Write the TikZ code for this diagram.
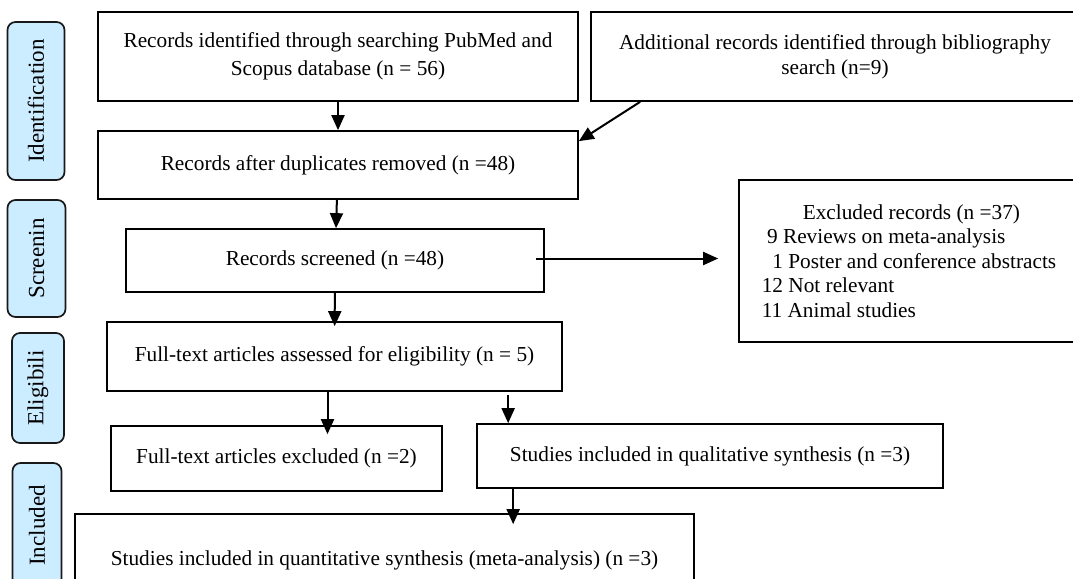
\documentclass[tikz,border=0pt]{standalone}
\usepackage{fontspec}
\setmainfont{Liberation Serif}
\usetikzlibrary{arrows.meta}
\definecolor{phasefill}{HTML}{CCECFF}

\begin{document}
\begin{tikzpicture}[x = 1pt, y = -1pt, line width = 1.7pt,
                    box/.style   = {rectangle, draw, fill = white, inner sep = 0pt, align = center, font = \fontsize{21.3}{25}\selectfont},
                    phase/.style = {rectangle, rounded corners = 8pt, draw = black!90, fill = phasefill, inner sep = 0pt, rotate = 90, font = \fontsize{23}{27}\selectfont},
                    flow/.style  = {->, line width = 2pt},
                    >= {Triangle[width = 13pt, length = 15pt]}
                    ]
    \useasboundingbox (0, 0) rectangle (1073, 578);
    \clip (0, 0) rectangle (1073, 578);

    % phases
    \node[phase, minimum width = 158pt, minimum height = 57pt] (lid)   at (36, 101)     {Identification};
    \node[phase, minimum width = 117pt, minimum height = 58pt] (lscr)  at (36.5, 258.5) {Screenin};
    \node[phase, minimum width = 110pt, minimum height = 52pt] (lelig) at (38, 388)     {Eligibili};
    \node[phase, minimum width = 125pt, minimum height = 49pt] (lincl) at (37, 525.5)   {Included};

    \node[box, minimum width = 480pt, minimum height = 89pt] (searched) at (338, 56.5) {Records identified through searching PubMed and\\[3pt] Scopus database (n = 56)};
    \node[box, minimum width = 488pt, minimum height = 89pt] (biblio)   at (835, 56.5) {Additional records identified through bibliography\\ search (n=9)};
    \node[box, minimum width = 480pt, minimum height = 68pt] (dedup)    at (338, 165)  {Records after duplicates removed (n =48)};
    \node[box, minimum width = 418pt, minimum height = 63pt] (screened) at (335, 260.5) {Records screened (n =48)};
    \node[box, align = left, minimum width = 340pt, minimum height = 162pt, font = \fontsize{21.3}{24.6}\selectfont] (excluded) at (909, 261)
        {\hspace*{41pt}Excluded records (n =37)\\ \hspace*{5.3pt}9 Reviews on meta-analysis\\ \hspace*{10.6pt}1 Poster and conference abstracts\\ 12 Not relevant\\ 11 Animal studies};
    \node[box, minimum width = 455pt, minimum height = 69pt] (fulltext) at (334.5, 356.5) {Full-text articles assessed for eligibility (n = 5)};
    \node[box, minimum width = 331pt, minimum height = 65pt] (ftexcl)   at (276.5, 458.5) {Full-text articles excluded (n =2)};
    \node[box, minimum width = 466pt, minimum height = 64pt] (qual)     at (710, 456)     {Studies included in qualitative synthesis (n =3)};
    \node[box, minimum width = 619pt, minimum height = 92pt] (quant)    at (384.5, 560)   {Studies included in quantitative synthesis (meta-analysis) (n =3)};

    \coordinate (s1) at ([xshift = -9pt, yshift = 2pt]screened.east);
    \coordinate (f1) at ([xshift = -7pt]fulltext.south);
    \coordinate (q1) at ([xshift = 32pt]qual.north west);
    \coordinate (q2) at ([xshift = 37pt]qual.south west);

    \draw[flow] (searched) -- (dedup);
    \draw[flow] ([xshift = 50pt]biblio.south west) -- ([yshift = -11pt]dedup.north east);
    \draw[flow] (dedup) -- (screened);
    \draw[flow, shorten > = 20pt] (s1) -- (s1 -| excluded.west);
    \draw[flow, shorten > = -5pt] (screened) -- (fulltext);
    \draw[flow, shorten > = -9pt] (f1) -- (f1 |- ftexcl.north);
    \draw[flow, shorten < = 3pt] (q1 |- fulltext.south) -- (q1);
    \draw[flow, shorten < = -2pt, shorten > = -11pt] (q2) -- (q2 |- quant.north);
\end{tikzpicture}
\end{document}
